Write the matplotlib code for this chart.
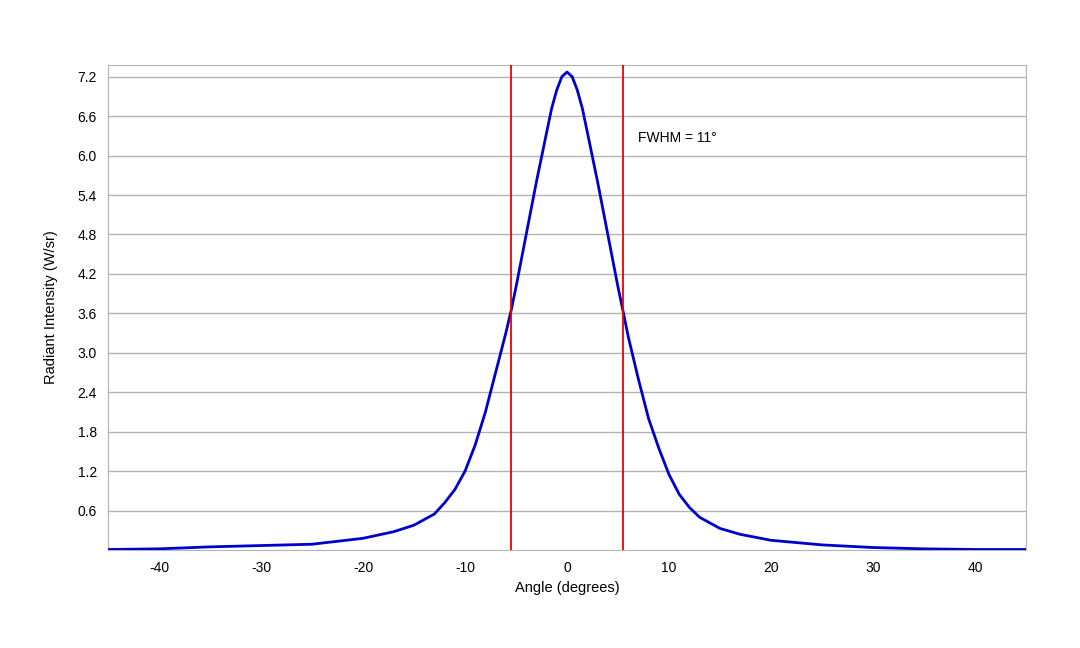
import numpy as np
import matplotlib
matplotlib.use('Agg')
import matplotlib.pyplot as plt

plt.rcParams['font.family'] = ['Liberation Sans', 'DejaVu Sans']
plt.rcParams['axes.unicode_minus'] = False

# -------- DATA --------
angle = [-45, -40, -35, -30, -25, -20, -17, -15, -13, -12, -11, -10, -9, -8, -7,
         -6, -5.5, -5, -4, -3, -2, -1.5, -1, -0.5, 0, 0.5, 1, 1.5, 2, 3, 4, 5,
         5.5, 6, 7, 8, 9, 10, 11, 12, 13, 15, 17, 20, 25, 30, 35, 40, 45]
intensity = [0.01, 0.02, 0.05, 0.07, 0.09, 0.18, 0.28, 0.38, 0.55, 0.72, 0.92,
             1.2, 1.6, 2.1, 2.7, 3.3, 3.63, 4.0, 4.8, 5.6, 6.35, 6.72, 7.0, 7.2,
             7.27, 7.2, 7.0, 6.72, 6.35, 5.6, 4.8, 4.0, 3.63, 3.25, 2.6, 2.0,
             1.55, 1.15, 0.85, 0.65, 0.5, 0.33, 0.24, 0.15, 0.08, 0.04, 0.02,
             0.01, 0.01]
fwhm_lines = [-5.5, 5.5]
yticks = [0.6, 1.2, 1.8, 2.4, 3.0, 3.6, 4.2, 4.8, 5.4, 6.0, 6.6, 7.2]
xticks = [-40, -30, -20, -10, 0, 10, 20, 30, 40]
# ----------------------

fig = plt.figure(figsize=(10.8, 6.48), dpi=100)
ax = fig.add_axes([0.1, 0.151, 0.85, 0.749])

ax.grid(axis='y', color='#b3b3b3', linewidth=1)
ax.set_axisbelow(True)
ax.plot(angle, intensity, color='#0000cc', linewidth=2, zorder=3)
for xv in fwhm_lines:
    ax.axvline(xv, color='#ee0000', linewidth=1.3, zorder=4)
ax.text(7, 6.2, 'FWHM = 11°', fontsize=10)

ax.set_xlim(-45, 45)
ax.set_ylim(0, 7.38)
ax.set_xticks(xticks)
ax.set_yticks(yticks)
ax.set_yticklabels([f'{v:.1f}' for v in yticks])
ax.tick_params(labelsize=10, length=0, pad=8)
for s in ax.spines.values():
    s.set_color('#b3b3b3')
ax.set_xlabel('Angle (degrees)', fontsize=10.5, labelpad=4)
ax.set_ylabel('Radiant Intensity (W/sr)', fontsize=10.5, labelpad=14)

fig.savefig('out.png', dpi=100)
